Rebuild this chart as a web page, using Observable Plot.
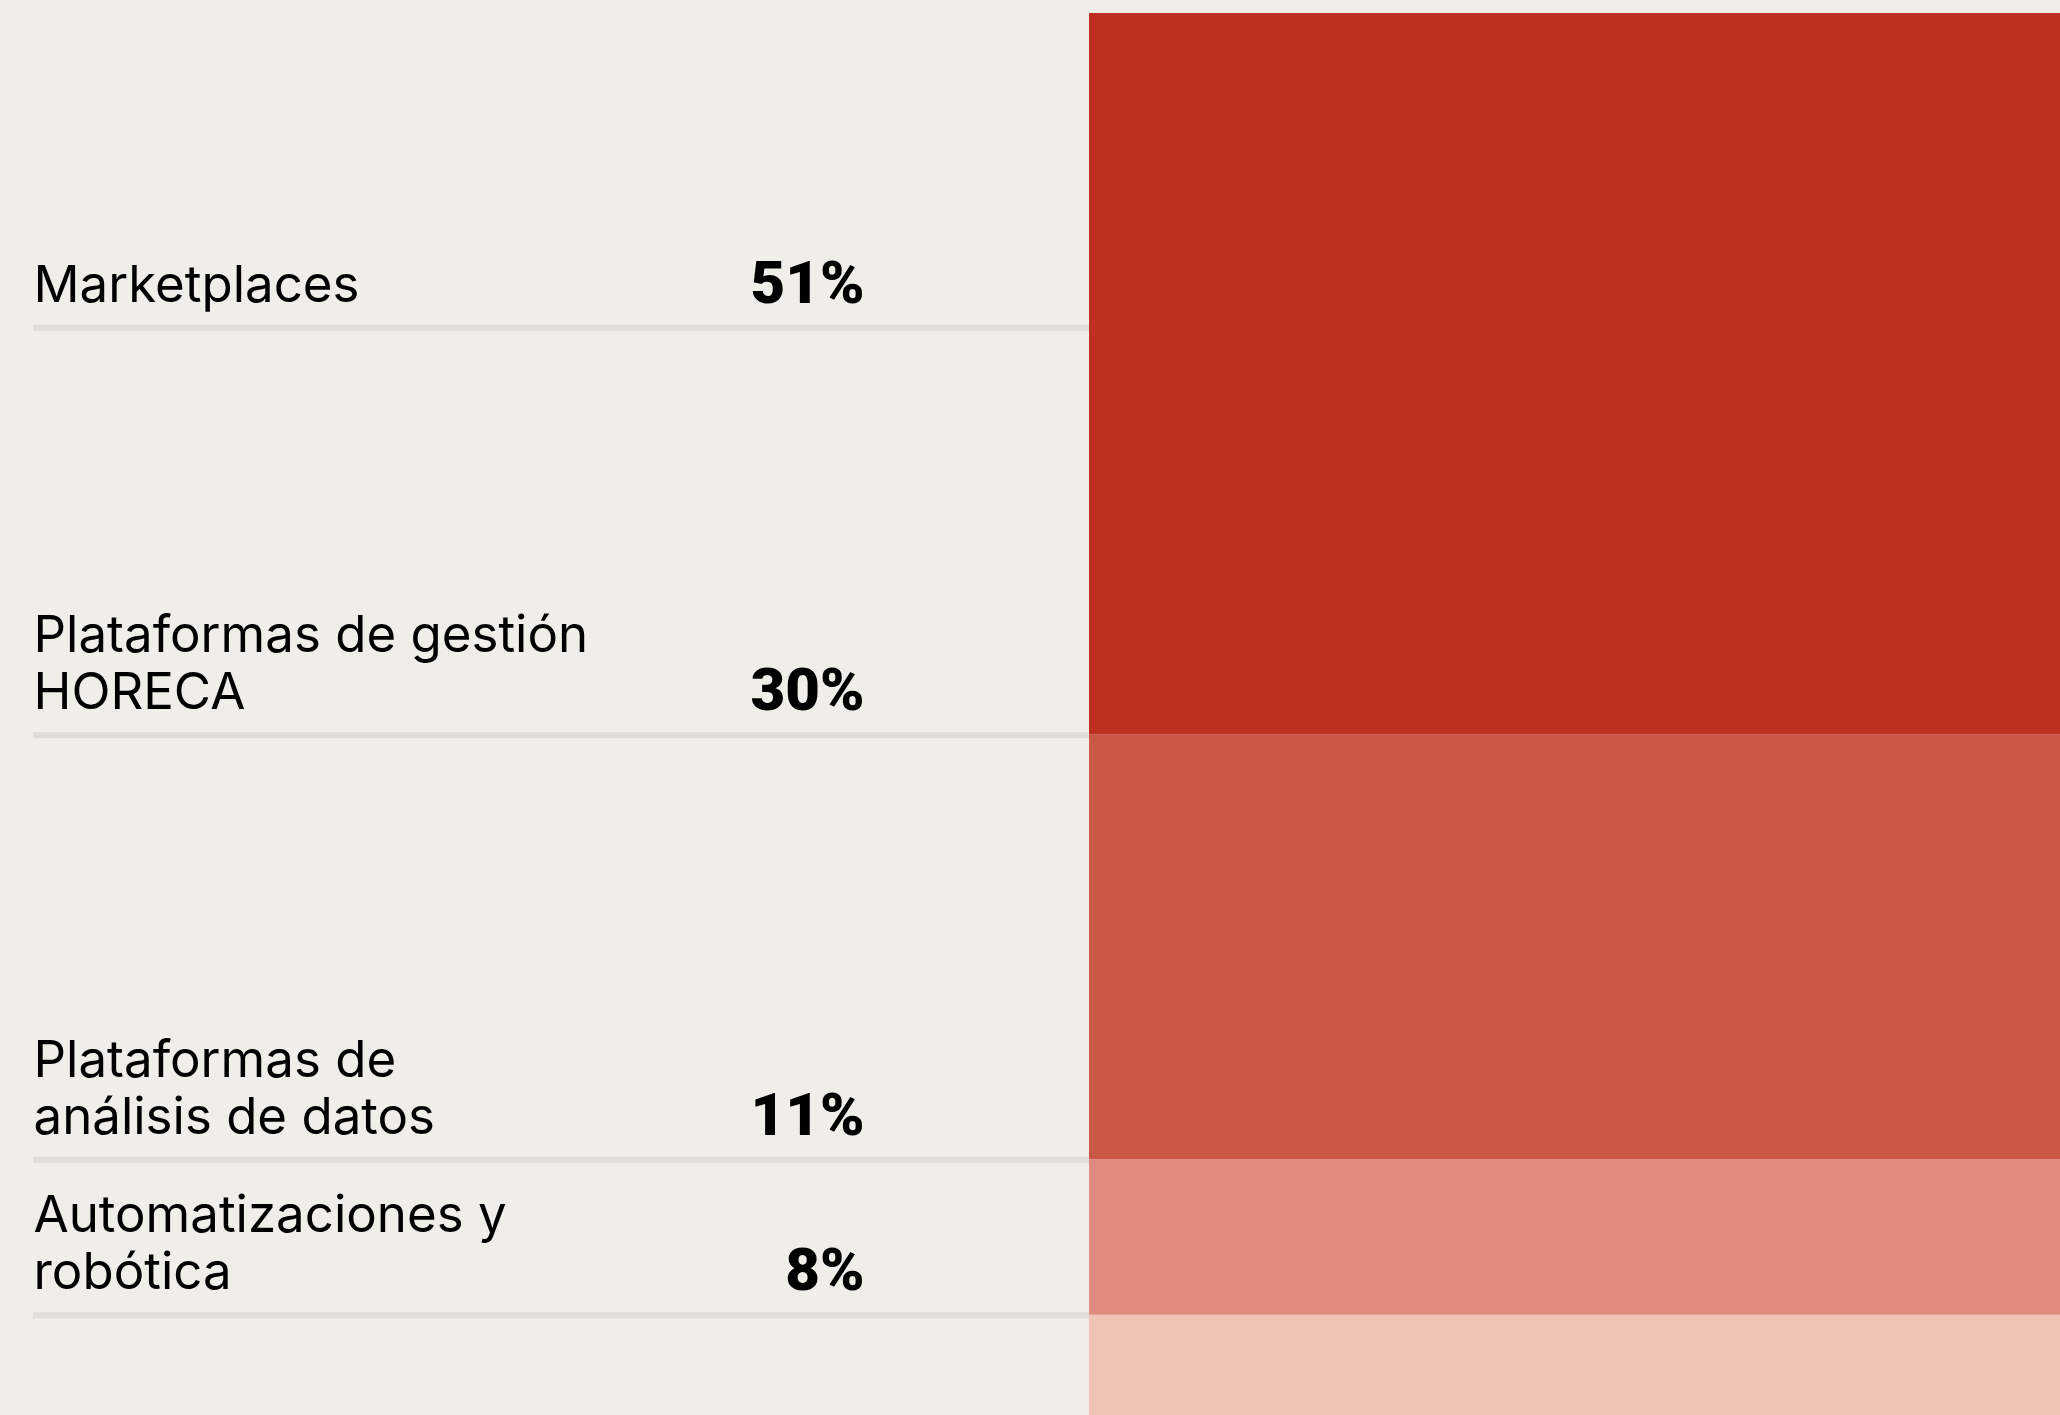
<!DOCTYPE html>
<html><head><meta charset="utf-8">
<script src="https://cdn.jsdelivr.net/npm/d3@7"></script>
<script src="https://cdn.jsdelivr.net/npm/@observablehq/plot@0.6"></script>
<style>html,body{margin:0;padding:0;background:#EFEEE9;overflow:hidden;}</style>
</head><body><div id="chart"></div>
<script>
const categories = ["Marketplaces", "Plataformas de gestión\nHORECA", "Plataformas de\nanálisis de datos", "Automatizaciones y\nrobótica"];
const values = [51, 30, 11, 8];
const valueLabels = ["51%", "30%", "11%", "8%"];
const ruleAt = [22.2, 51, 81, 92];
const colors = ["#BE3120", "#CB5846", "#DE8B7E", "#F1C3B5"];

const data = categories.map((c, i) => ({category: c, value: values[i], label: valueLabels[i], rule: ruleAt[i]}));

const chart = Plot.plot({
  width: 2060, height: 1415,
  marginLeft: 33, marginRight: 0, marginTop: 0, marginBottom: 0,
  style: {background: "#EFEEE9", fontFamily: "Inter, sans-serif", color: "#000"},
  x: {type: "band", domain: ["total"], range: [1089, 2060], padding: 0, axis: null},
  y: {domain: [0, 100], range: [13, 1428], axis: null},
  color: {domain: categories, range: colors},
  marks: [
    Plot.ruleY(data, {y: "rule", stroke: "#E0DDD8", strokeWidth: 6}),
    Plot.barY(data, Plot.stackY({x: () => "total", y: "value", fill: "category"})),
    Plot.text(data, {y: "rule", text: "category", frameAnchor: "left", textAnchor: "start", lineAnchor: "bottom", dy: -26, fontSize: 51, lineHeight: 1.12, fill: "#000"}),
    Plot.text(data, {y: "rule", text: "label", frameAnchor: "left", textAnchor: "end", lineAnchor: "bottom", dx: 831, dy: -25, fontSize: 60, fontWeight: 900, fontFamily: "Roboto, sans-serif", fill: "#000"})
  ]
});
document.getElementById("chart").appendChild(chart);
</script>
</body></html>
